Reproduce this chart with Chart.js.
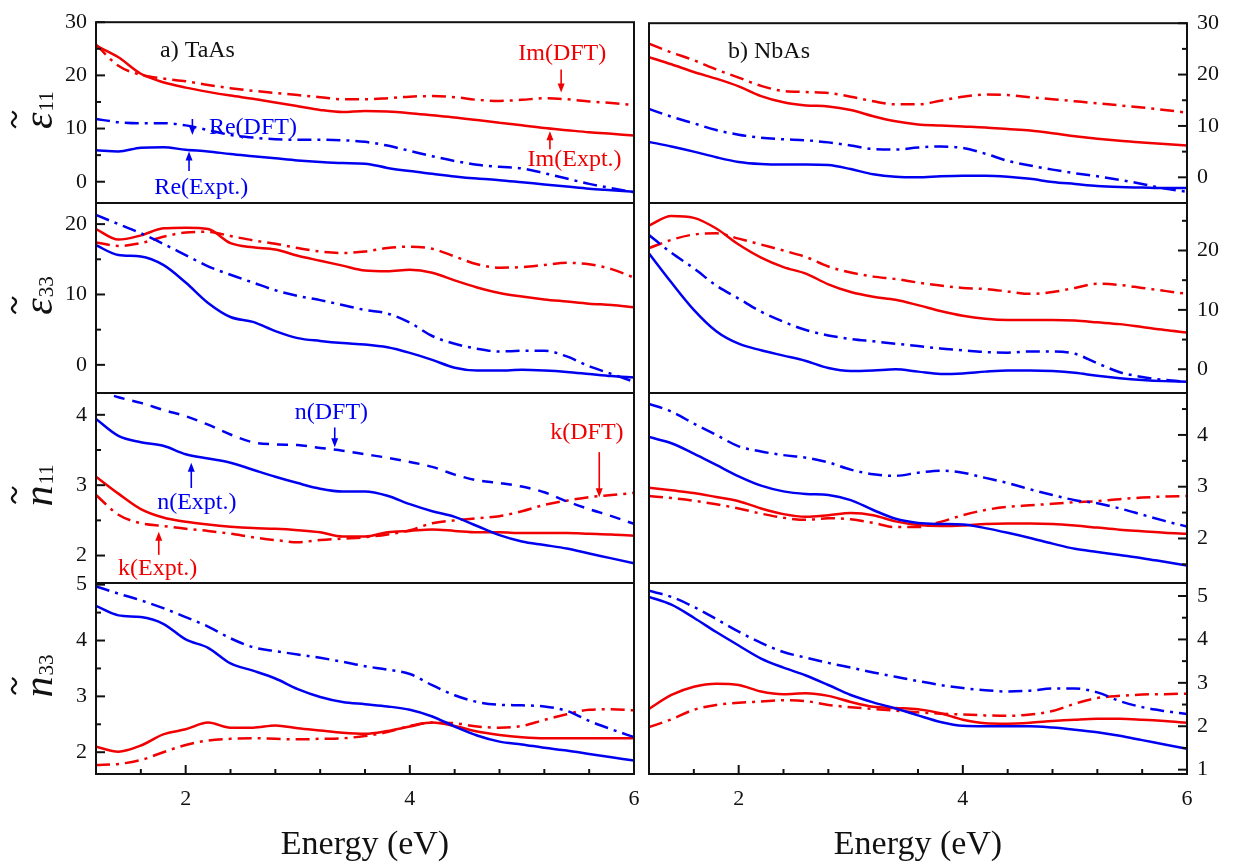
<!DOCTYPE html>
<html>
<head>
<meta charset="utf-8">
<script src="https://cdn.jsdelivr.net/npm/chart.js@4.4.1/dist/chart.umd.min.js"></script>
<style>
  body { margin: 0; background: #fff; }
  #wrap { position: relative; width: 1241px; height: 867px; }
  #wrap canvas { position: absolute; left: 0; top: 0; }
</style>
</head>
<body>
<div id="wrap"></div>
<script>
// photon energy grid (eV)
const energy = [1.2, 1.4, 1.6, 1.8, 2.0, 2.2, 2.4, 2.6, 2.8, 3.0, 3.2, 3.4, 3.6,
                3.8, 4.0, 4.2, 4.4, 4.6, 4.8, 5.0, 5.2, 5.4, 5.6, 5.8, 6.0];

// a) TaAs, eps11
const taasE11ReExpt = [5.9, 5.7, 6.4, 6.5, 6.0, 5.7, 5.2, 4.8, 4.4, 4.0, 3.7, 3.5, 3.4, 2.6, 2.0, 1.5, 1.0, 0.6, 0.3, -0.1, -0.5, -0.9, -1.3, -1.6, -1.9];
const taasE11ReDft  = [11.8, 11.2, 11.0, 11.0, 10.6, 9.7, 8.8, 8.3, 8.0, 7.9, 7.9, 7.8, 7.5, 6.8, 5.8, 4.8, 3.9, 3.2, 2.8, 2.5, 1.6, 0.6, -0.4, -1.2, -2.0];
const taasE11ImExpt = [25.6, 23.4, 20.3, 18.7, 17.7, 16.9, 16.2, 15.6, 14.9, 14.2, 13.5, 13.1, 13.3, 13.2, 12.9, 12.5, 12.1, 11.6, 11.1, 10.6, 10.1, 9.7, 9.3, 9.0, 8.7];
const taasE11ImDft  = [25.8, 21.8, 20.1, 19.4, 18.9, 18.2, 17.6, 17.1, 16.7, 16.3, 15.9, 15.5, 15.5, 15.7, 16.0, 16.1, 15.9, 15.4, 15.2, 15.4, 15.7, 15.5, 15.1, 14.8, 14.4];

// b) NbAs, eps11
const nbasE11ReExpt = [6.9, 6.0, 5.0, 3.9, 3.0, 2.6, 2.5, 2.5, 2.4, 1.6, 0.6, 0.1, 0.0, 0.2, 0.3, 0.3, 0.1, -0.3, -0.9, -1.3, -1.7, -1.9, -2.0, -2.1, -2.1];
const nbasE11ReDft  = [13.3, 11.8, 10.5, 9.2, 8.3, 7.7, 7.4, 7.2, 6.8, 6.2, 5.5, 5.4, 5.8, 6.0, 5.7, 4.6, 3.2, 2.3, 1.5, 0.8, 0.2, -0.5, -1.3, -2.2, -2.8];
const nbasE11ImExpt = [23.4, 22.0, 20.5, 19.2, 17.7, 15.8, 14.6, 14.0, 13.8, 13.1, 11.9, 10.9, 10.3, 10.1, 9.9, 9.7, 9.4, 9.1, 8.6, 8.0, 7.5, 7.1, 6.8, 6.5, 6.2];
const nbasE11ImDft  = [26.0, 24.3, 22.8, 21.0, 19.4, 17.8, 16.8, 16.6, 16.4, 15.7, 14.8, 14.2, 14.2, 14.9, 15.7, 16.1, 16.0, 15.6, 15.2, 14.8, 14.4, 14.0, 13.6, 13.1, 12.6];

// a) TaAs, eps33
const taasE33ReExpt = [17.0, 15.6, 15.4, 14.2, 11.7, 8.8, 6.8, 6.1, 4.8, 3.8, 3.4, 3.1, 2.9, 2.5, 1.7, 0.7, -0.4, -0.8, -0.8, -0.7, -0.8, -1.0, -1.3, -1.6, -1.8];
const taasE33ReDft  = [21.3, 20.0, 18.7, 17.2, 15.6, 14.0, 12.8, 11.7, 10.6, 9.8, 9.2, 8.5, 7.8, 7.3, 6.0, 4.1, 3.0, 2.3, 1.9, 2.0, 2.0, 1.2, -0.2, -1.3, -2.4];
const taasE33ImExpt = [19.3, 17.8, 18.4, 19.4, 19.5, 19.3, 17.3, 16.7, 16.4, 15.5, 14.8, 14.1, 13.4, 13.3, 13.5, 13.1, 12.0, 11.0, 10.2, 9.7, 9.3, 9.0, 8.7, 8.5, 8.2];
const taasE33ImDft  = [17.4, 16.9, 17.3, 18.2, 18.8, 18.9, 18.3, 17.7, 17.2, 16.6, 16.1, 15.9, 16.1, 16.6, 16.8, 16.5, 15.4, 14.3, 13.8, 13.9, 14.2, 14.5, 14.3, 13.6, 12.4];

// b) NbAs, eps33
const nbasE33ReExpt = [19.5, 14.6, 10.0, 6.4, 4.3, 3.2, 2.3, 1.4, 0.2, -0.3, -0.2, 0.0, -0.4, -0.8, -0.7, -0.4, -0.2, -0.2, -0.3, -0.6, -1.1, -1.5, -1.8, -2.0, -2.1];
const nbasE33ReDft  = [22.6, 19.6, 17.0, 14.1, 11.9, 9.7, 8.0, 6.6, 5.7, 5.1, 4.7, 4.3, 3.9, 3.5, 3.2, 2.9, 2.8, 3.0, 3.0, 2.6, 1.0, -0.5, -1.3, -1.8, -2.1];
const nbasE33ImExpt = [24.2, 25.8, 25.5, 23.7, 21.0, 18.8, 17.2, 16.1, 14.3, 13.0, 12.2, 11.7, 10.8, 9.8, 9.0, 8.5, 8.3, 8.3, 8.3, 8.2, 7.9, 7.6, 7.1, 6.6, 6.2];
const nbasE33ImDft  = [20.4, 21.8, 22.7, 22.9, 22.0, 21.0, 20.0, 18.9, 17.3, 16.3, 15.6, 15.2, 14.6, 14.1, 13.7, 13.5, 13.1, 12.7, 13.0, 13.7, 14.4, 14.2, 13.7, 13.2, 12.7];

// a) TaAs, n11 / k11
const taasN11Expt = [3.94, 3.70, 3.61, 3.56, 3.44, 3.38, 3.32, 3.22, 3.12, 3.03, 2.95, 2.91, 2.91, 2.85, 2.73, 2.63, 2.55, 2.42, 2.29, 2.20, 2.15, 2.10, 2.03, 1.96, 1.89];
const taasN11Dft  = [4.36, 4.25, 4.17, 4.07, 3.98, 3.86, 3.72, 3.61, 3.58, 3.57, 3.53, 3.49, 3.44, 3.39, 3.33, 3.26, 3.15, 3.07, 3.03, 2.98, 2.90, 2.77, 2.66, 2.56, 2.45];
const taasK11Expt = [3.12, 2.88, 2.66, 2.54, 2.48, 2.44, 2.41, 2.39, 2.38, 2.36, 2.33, 2.27, 2.27, 2.33, 2.35, 2.37, 2.35, 2.33, 2.33, 2.32, 2.32, 2.32, 2.31, 2.30, 2.28];
const taasK11Dft  = [2.86, 2.58, 2.46, 2.42, 2.38, 2.35, 2.31, 2.26, 2.22, 2.19, 2.22, 2.24, 2.26, 2.30, 2.36, 2.46, 2.50, 2.53, 2.56, 2.63, 2.72, 2.78, 2.83, 2.86, 2.89];

// b) NbAs, n11 / k11
const nbasN11Expt = [3.96, 3.84, 3.64, 3.42, 3.20, 3.02, 2.91, 2.86, 2.84, 2.74, 2.55, 2.38, 2.30, 2.28, 2.27, 2.20, 2.11, 2.01, 1.90, 1.80, 1.74, 1.68, 1.62, 1.55, 1.48];
const nbasN11Dft  = [4.60, 4.45, 4.22, 4.00, 3.78, 3.68, 3.61, 3.56, 3.47, 3.33, 3.24, 3.21, 3.27, 3.31, 3.27, 3.17, 3.07, 2.95, 2.84, 2.74, 2.68, 2.58, 2.46, 2.34, 2.23];
const nbasK11Expt = [2.98, 2.93, 2.88, 2.80, 2.72, 2.58, 2.47, 2.42, 2.45, 2.49, 2.45, 2.33, 2.26, 2.24, 2.25, 2.28, 2.29, 2.29, 2.28, 2.25, 2.21, 2.17, 2.14, 2.11, 2.09];
const nbasK11Dft  = [2.82, 2.78, 2.73, 2.66, 2.58, 2.48, 2.40, 2.36, 2.39, 2.37, 2.30, 2.22, 2.22, 2.32, 2.45, 2.55, 2.61, 2.64, 2.67, 2.70, 2.72, 2.76, 2.79, 2.81, 2.82];

// a) TaAs, n33 / k33
const taasN33Expt = [4.62, 4.45, 4.42, 4.30, 4.02, 3.87, 3.59, 3.46, 3.32, 3.13, 2.99, 2.90, 2.86, 2.82, 2.76, 2.64, 2.46, 2.30, 2.19, 2.14, 2.08, 2.03, 1.97, 1.91, 1.85];
const taasN33Dft  = [4.97, 4.84, 4.72, 4.58, 4.42, 4.25, 4.04, 3.88, 3.81, 3.75, 3.69, 3.62, 3.54, 3.48, 3.40, 3.20, 3.02, 2.90, 2.85, 2.84, 2.82, 2.74, 2.56, 2.41, 2.27];
const taasK33Expt = [2.10, 2.01, 2.12, 2.32, 2.41, 2.53, 2.44, 2.44, 2.48, 2.43, 2.39, 2.35, 2.33, 2.38, 2.46, 2.53, 2.47, 2.37, 2.31, 2.27, 2.25, 2.25, 2.25, 2.25, 2.25];
const taasK33Dft  = [1.77, 1.79, 1.86, 2.00, 2.13, 2.21, 2.24, 2.25, 2.24, 2.23, 2.24, 2.25, 2.29, 2.36, 2.47, 2.53, 2.52, 2.46, 2.44, 2.47, 2.58, 2.68, 2.76, 2.77, 2.75];

// b) NbAs, n33 / k33
const nbasN33Expt = [4.98, 4.80, 4.50, 4.17, 3.86, 3.56, 3.35, 3.17, 2.95, 2.72, 2.55, 2.41, 2.25, 2.10, 2.01, 2.00, 2.00, 2.00, 1.97, 1.92, 1.86, 1.78, 1.68, 1.58, 1.48];
const nbasN33Dft  = [5.12, 4.98, 4.75, 4.47, 4.18, 3.92, 3.71, 3.58, 3.46, 3.35, 3.24, 3.14, 3.04, 2.95, 2.88, 2.83, 2.80, 2.82, 2.87, 2.87, 2.78, 2.58, 2.44, 2.35, 2.28];
const nbasK33Expt = [2.40, 2.72, 2.91, 2.98, 2.95, 2.80, 2.74, 2.76, 2.70, 2.56, 2.45, 2.42, 2.39, 2.30, 2.15, 2.07, 2.06, 2.08, 2.12, 2.15, 2.17, 2.17, 2.15, 2.12, 2.08];
const nbasK33Dft  = [1.98, 2.16, 2.38, 2.49, 2.54, 2.57, 2.60, 2.58, 2.49, 2.44, 2.40, 2.36, 2.32, 2.29, 2.27, 2.25, 2.24, 2.27, 2.35, 2.52, 2.65, 2.70, 2.73, 2.74, 2.75];

const W = 1241, H = 867;
const RED = '#f00000';
const BLUE = '#0000f0';
const INK = '#111';
const SERIF = '"Liberation Serif", "Times New Roman", serif';
const DASHDOT = [14, 6, 3, 6];
const DASH = [11, 8];

// plot boxes in page pixels
const COLS = [[96, 634], [649, 1187]];
const ROWS = [[14, 203], [203, 393], [393, 583], [583, 774]];

function line(values, color, dash) {
  return {
    data: values.map((v, i) => ({ x: energy[i], y: v })),
    borderColor: color,
    borderWidth: 2.5,
    borderDash: dash,
    pointRadius: 0,
    fill: false,
    cubicInterpolationMode: 'monotone'
  };
}

const panels = [
  { col: 0, row: 0, y: [-4, 30, 10], sym: 'ε', sub: '11', label: 'a) TaAs',
    sets: [line(taasE11ReExpt, BLUE, []), line(taasE11ReDft, BLUE, DASHDOT),
           line(taasE11ImExpt, RED, []), line(taasE11ImDft, RED, DASHDOT)],
    notes: [
      { t: 'Re(DFT)', c: BLUE, x: 2.60, y: 10.2, ax: 2.06, a0: 11.8, a1: 8.8 },
      { t: 'Re(Expt.)', c: BLUE, x: 2.14, y: -1.1, ax: 2.03, a0: 2.0, a1: 5.7 },
      { t: 'Im(DFT)', c: RED, x: 5.36, y: 24.0, ax: 5.35, a0: 21.1, a1: 16.8 },
      { t: 'Im(Expt.)', c: RED, x: 5.47, y: 4.1, ax: 5.25, a0: 6.1, a1: 9.5 }
    ] },
  { col: 1, row: 0, y: [-5, 30, 10], label: 'b) NbAs',
    sets: [line(nbasE11ReExpt, BLUE, []), line(nbasE11ReDft, BLUE, DASHDOT),
           line(nbasE11ImExpt, RED, []), line(nbasE11ImDft, RED, DASHDOT)] },
  { col: 0, row: 1, y: [-4, 23, 10], sym: 'ε', sub: '33',
    sets: [line(taasE33ReExpt, BLUE, []), line(taasE33ReDft, BLUE, DASHDOT),
           line(taasE33ImExpt, RED, []), line(taasE33ImDft, RED, DASHDOT)] },
  { col: 1, row: 1, y: [-4, 28, 10],
    sets: [line(nbasE33ReExpt, BLUE, []), line(nbasE33ReDft, BLUE, DASHDOT),
           line(nbasE33ImExpt, RED, []), line(nbasE33ImDft, RED, DASHDOT)] },
  { col: 0, row: 2, y: [1.61, 4.31, 1], sym: 'n', sub: '11',
    sets: [line(taasN11Expt, BLUE, []), line(taasN11Dft, BLUE, DASH),
           line(taasK11Expt, RED, []), line(taasK11Dft, RED, DASHDOT)],
    notes: [
      { t: 'n(DFT)', c: BLUE, x: 3.30, y: 4.03, ax: 3.33, a0: 3.82, a1: 3.54 },
      { t: 'n(Expt.)', c: BLUE, x: 2.10, y: 2.75, ax: 2.05, a0: 2.96, a1: 3.32 },
      { t: 'k(Expt.)', c: RED, x: 1.75, y: 1.82, ax: 1.76, a0: 2.01, a1: 2.34 },
      { t: 'k(DFT)', c: RED, x: 5.58, y: 3.74, ax: 5.69, a0: 3.47, a1: 2.83 }
    ] },
  { col: 1, row: 2, y: [1.14, 4.81, 1],
    sets: [line(nbasN11Expt, BLUE, []), line(nbasN11Dft, BLUE, DASHDOT),
           line(nbasK11Expt, RED, []), line(nbasK11Dft, RED, DASHDOT)] },
  { col: 0, row: 3, y: [1.61, 5.03, 1], sym: 'n', sub: '33',
    sets: [line(taasN33Expt, BLUE, []), line(taasN33Dft, BLUE, DASHDOT),
           line(taasK33Expt, RED, []), line(taasK33Dft, RED, DASHDOT)] },
  { col: 1, row: 3, y: [0.9, 5.3, 1],
    sets: [line(nbasN33Expt, BLUE, []), line(nbasN33Dft, BLUE, DASHDOT),
           line(nbasK33Expt, RED, []), line(nbasK33Dft, RED, DASHDOT)] }
];

// tilde-topped symbol with subscript, rotated like an axis title
function drawSymbol(ctx, cx, cy, sym, sub) {
  ctx.save();
  ctx.translate(cx, cy);
  ctx.rotate(-Math.PI / 2);
  ctx.fillStyle = INK;
  ctx.strokeStyle = INK;
  ctx.textBaseline = 'alphabetic';
  ctx.font = `italic 42px ${SERIF}`;
  const m = ctx.measureText(sym);
  ctx.font = `21px ${SERIF}`;
  const ws = ctx.measureText(sub).width;
  const x0 = -(m.width + ws) / 2;
  ctx.font = `italic 42px ${SERIF}`;
  ctx.fillText(sym, x0, 0);
  ctx.font = `21px ${SERIF}`;
  ctx.fillText(sub, x0 + m.width + 1, 1);

  // tilde as a small wave centred on the symbol's ink
  const tx = x0 + (m.actualBoundingBoxRight - m.actualBoundingBoxLeft) / 2 + 1;
  const ty = -38;
  ctx.lineWidth = 2.2;
  ctx.beginPath();
  ctx.moveTo(tx - 8, ty + 2);
  ctx.quadraticCurveTo(tx - 4, ty - 5, tx, ty);
  ctx.quadraticCurveTo(tx + 4, ty + 5, tx + 8, ty - 2);
  ctx.stroke();
  ctx.restore();
}

function deco(p) {
  return {
    id: 'deco',
    afterDraw(chart) {
      const { ctx, chartArea: a, scales: { x, y } } = chart;
      ctx.save();
      ctx.strokeStyle = INK;
      ctx.lineWidth = 2;
      ctx.strokeRect(a.left, a.top, a.right - a.left, a.bottom - a.top);

      // inward y ticks, major at labelled values, minor halfway
      const half = p.y[2] / 2;
      const side = p.col ? a.right : a.left;
      const dir = p.col ? -1 : 1;
      for (let k = Math.ceil(p.y[0] / half); k * half <= p.y[1] + 1e-9; k++) {
        const py = y.getPixelForValue(k * half);
        ctx.beginPath();
        ctx.moveTo(side, py);
        ctx.lineTo(side + dir * (k % 2 === 0 ? 9 : 5), py);
        ctx.stroke();
      }

      // inward x ticks on the bottom row, every 0.4 eV
      if (p.row === 3) {
        for (let k = 4; k <= 14; k++) {
          const px = x.getPixelForValue(k * 0.4);
          ctx.beginPath();
          ctx.moveTo(px, a.bottom);
          ctx.lineTo(px, a.bottom - (k % 5 === 0 ? 9 : 5));
          ctx.stroke();
        }
      }

      if (p.sym) drawSymbol(ctx, 52, (a.top + a.bottom) / 2 - 2, p.sym, p.sub);

      if (p.label) {
        ctx.fillStyle = INK;
        ctx.font = `24px ${SERIF}`;
        ctx.textBaseline = 'alphabetic';
        ctx.fillText(p.label, a.left + (p.col ? 79 : 64), a.top + 35);
      }

      // labels with arrows pointing at their curves
      (p.notes || []).forEach((n) => {
        ctx.fillStyle = n.c;
        ctx.strokeStyle = n.c;
        ctx.font = `24px ${SERIF}`;
        ctx.textAlign = 'center';
        ctx.textBaseline = 'middle';
        ctx.fillText(n.t, x.getPixelForValue(n.x), y.getPixelForValue(n.y));
        const ax = x.getPixelForValue(n.ax);
        const y0 = y.getPixelForValue(n.a0);
        const y1 = y.getPixelForValue(n.a1);
        const d = y1 > y0 ? 1 : -1;
        ctx.lineWidth = 1.6;
        ctx.beginPath();
        ctx.moveTo(ax, y0);
        ctx.lineTo(ax, y1 - d * 6);
        ctx.stroke();
        ctx.beginPath();
        ctx.moveTo(ax, y1);
        ctx.lineTo(ax - 3.5, y1 - d * 9);
        ctx.lineTo(ax + 3.5, y1 - d * 9);
        ctx.closePath();
        ctx.fill();
      });
      ctx.restore();
    }
  };
}

const wrap = document.getElementById('wrap');

panels.forEach((p) => {
  const [left, right] = COLS[p.col];
  const [top, bottom] = ROWS[p.row];
  const bottomRow = p.row === 3;
  const canvas = document.createElement('canvas');
  canvas.width = W;
  canvas.height = H;
  wrap.appendChild(canvas);

  new Chart(canvas, {
    type: 'line',
    data: { datasets: p.sets },
    options: {
      responsive: false,
      animation: false,
      devicePixelRatio: 1,
      events: [],
      layout: {
        padding: {
          left: p.col ? left : 0,
          right: p.col ? 0 : W - right,
          top: top,
          bottom: bottomRow ? 0 : H - bottom
        }
      },
      plugins: { legend: { display: false }, tooltip: { enabled: false } },
      scales: {
        x: {
          type: 'linear',
          min: 1.2,
          max: 6,
          display: bottomRow,
          grid: { display: false, drawTicks: false },
          border: { display: false },
          ticks: { stepSize: 2, includeBounds: false, padding: 12, maxRotation: 0,
                   color: INK, font: { family: SERIF, size: 22 } },
          title: { display: true, text: 'Energy (eV)', color: INK,
                   font: { family: SERIF, size: 34 }, padding: { top: 0, bottom: 2 } },
          // only the bottom row reserves room under the plot
          afterFit: (s) => { s.height = bottomRow ? H - bottom : 0; }
        },
        y: {
          type: 'linear',
          position: p.col ? 'right' : 'left',
          min: p.y[0],
          max: p.y[1],
          grid: { display: false, drawTicks: false },
          border: { display: false },
          ticks: { stepSize: p.y[2], includeBounds: false, padding: p.col ? 10 : 9,
                   color: INK, font: { family: SERIF, size: 22 } },
          afterFit: (s) => { s.width = p.col ? W - right : left; }
        }
      }
    },
    plugins: [deco(p)]
  });
});
</script>
</body>
</html>
